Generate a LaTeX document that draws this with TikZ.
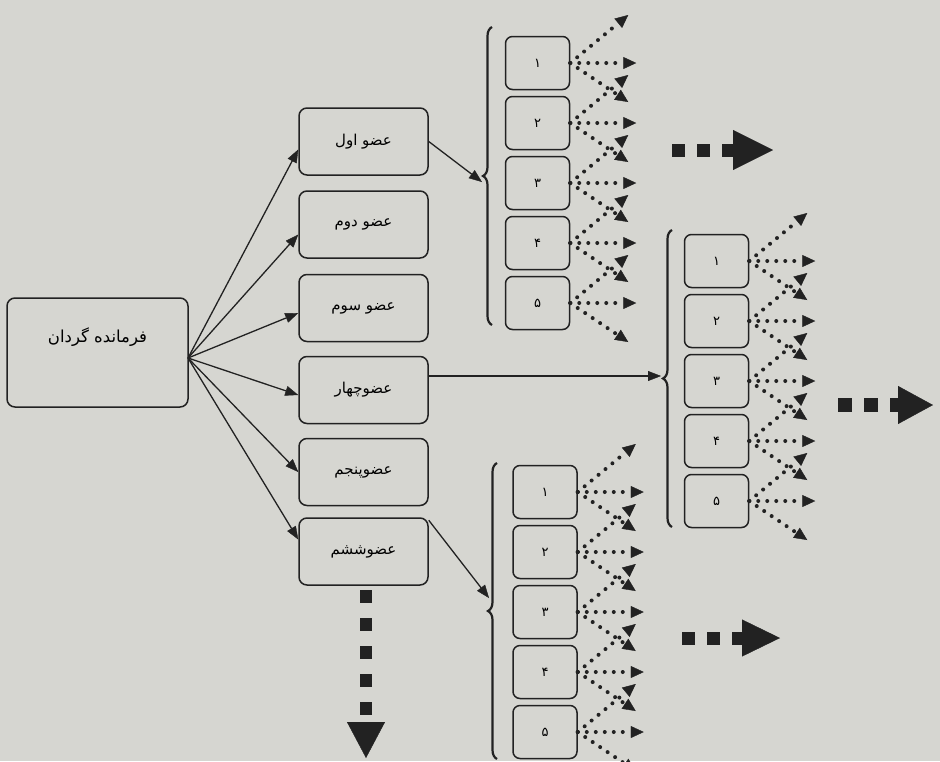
\documentclass[tikz,border=0pt]{standalone}
\usepackage{fontspec}
\usetikzlibrary{arrows.meta,decorations.pathreplacing,calc}
\TeXXeTstate=1
\newfontfamily\arabicfont[Script=Arabic]{DejaVu Sans}
\definecolor{bg}{RGB}{214,214,209}
\definecolor{ink}{RGB}{34,34,34}
\newcommand\fa[1]{{\arabicfont\beginR #1\endR}}
\begin{document}
\begin{tikzpicture}[x=1pt,y=-1pt,
  box/.style={draw=ink, line width=1.5pt, rounded corners=8pt, fill=bg, inner sep=0pt, font=\fontsize{15}{17}\selectfont},
  cmdbox/.style={box, minimum width=181pt, minimum height=109pt, font=\fontsize{16.5}{18}\selectfont},
  membox/.style={box, minimum width=129pt, minimum height=67pt},
  numbox/.style={box, minimum width=64pt, minimum height=53pt, rounded corners=7pt, font=\fontsize{13}{15}\selectfont},
  link/.style={draw=ink, line width=1.3pt, -{Triangle[length=13pt,width=10pt,line width=0.4pt]}},
  dotarrow/.style={draw=ink, line width=4pt, line cap=round, dash pattern=on 0pt off 9pt, -{Triangle[length=13pt,width=12pt,line width=0.4pt]}},
  brc/.style={draw=ink, line width=2.2pt, decorate, decoration={brace, amplitude=9pt}},
  bigarrow/.style={draw=ink, line cap=butt}
]
\fill[bg] (0,0) rectangle (940,761);
\useasboundingbox (0,0) rectangle (940,761);

% commander
\node[cmdbox] (cmd) at (97.5,352.5) {\smash{\raisebox{10pt}{\fa{فرمانده گردان}}}};

% members
\node[membox] (m1) at (363.5,141.5) {\fa{عضو اول}};
\node[membox] (m2) at (363.5,224.5) {\fa{عضو دوم}};
\node[membox] (m3) at (363.5,308) {\fa{عضو سوم}};
\node[membox] (m4) at (363.5,390) {\fa{عضوچهار}};
\node[membox] (m5) at (363.5,472) {\fa{عضوپنجم}};
\node[membox] (m6) at (363.5,551.5) {\fa{عضوششم}};

\coordinate (fan) at (188,358);
\foreach \m/\s in {m1/-8,m2/-10,m3/-5,m4/-5,m5/0,m6/12}
  \draw[link] (fan) -- ([yshift=\s pt]\m.west);

% number groups
\foreach \g/\x/\ya in {a/537.5/63,b/716.5/261,c/545/492}{
  \foreach \i/\d in {1/۱,2/۲,3/۳,4/۴,5/۵}{
    \node[numbox] (\g\i) at (\x,{\ya+60*(\i-1)}) {\fa{\d}};
    \coordinate (\g\i u) at ($(\g\i.east)+(58,-48)$);
    \coordinate (\g\i r) at ($(\g\i.east)+(66,0)$);
    \coordinate (\g\i d) at ($(\g\i.east)+(58,39)$);
    \draw[dotarrow] (\g\i.east) -- (\g\i u);
    \draw[dotarrow] (\g\i.east) -- (\g\i r);
    \draw[dotarrow] (\g\i.east) -- (\g\i d);
  }
}

% braces
\coordinate (brAb) at (492,325); \coordinate (brAt) at (492,27);
\coordinate (brBb) at (672,527); \coordinate (brBt) at (672,230);
\coordinate (brCb) at (497,759); \coordinate (brCt) at (497,463);
\draw[brc] (brAb) -- (brAt);
\draw[brc] (brBb) -- (brBt);
\draw[brc] (brCb) -- (brCt);

\coordinate (inA) at (482,182);
\coordinate (inB) at (661,376);
\coordinate (inC) at (489,598);
\draw[link] (m1.east) -- (inA);
\draw[link] (m4.east |- inB) -- (inB);
\draw[link] ([yshift=-3pt]m6.north east) -- (inC);

% big dashed arrows
\coordinate (bAs) at (672,150); \coordinate (bAe) at (773,150);
\coordinate (bBs) at (838,405); \coordinate (bBe) at (933,405);
\coordinate (bCs) at (682,638); \coordinate (bCe) at (780,638);
\coordinate (bDs) at (366,590); \coordinate (bDe) at (366,758);
\draw[bigarrow, line width=13pt, dash pattern=on 13pt off 12pt, -{Triangle[length=40pt,width=40pt,line width=0.4pt]}] (bAs) -- (bAe);
\draw[bigarrow, line width=14pt, dash pattern=on 14pt off 12pt, -{Triangle[length=35pt,width=38pt,line width=0.4pt]}] (bBs) -- (bBe);
\draw[bigarrow, line width=13pt, dash pattern=on 13pt off 12pt, -{Triangle[length=38pt,width=37pt,line width=0.4pt]}] (bCs) -- (bCe);
\draw[bigarrow, line width=12pt, dash pattern=on 13pt off 15pt, -{Triangle[length=36pt,width=38pt,line width=0.4pt]}] (bDs) -- (bDe);
\end{tikzpicture}
\end{document}
